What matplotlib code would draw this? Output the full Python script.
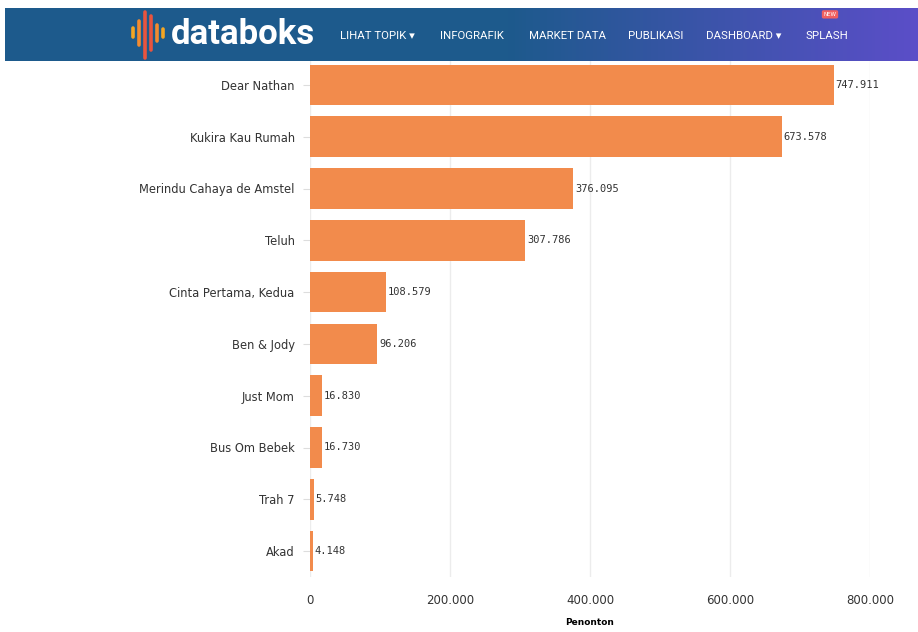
import matplotlib.pyplot as plt
import numpy as np

films = ['Dear Nathan', 'Kukira Kau Rumah', 'Merindu Cahaya de Amstel', 'Teluh',
         'Cinta Pertama, Kedua', 'Ben & Jody', 'Just Mom', 'Bus Om Bebek', 'Trah 7', 'Akad']
penonton = [747911, 673578, 376095, 307786, 108579, 96206, 16830, 16730, 5748, 4148]
xticks = [0, 200000, 400000, 600000, 800000]
menu = ['LIHAT TOPIK ▾', 'INFOGRAFIK', 'MARKET DATA', 'PUBLIKASI', 'DASHBOARD ▾', 'SPLASH']


def titik(v):
    return f'{v:,}'.replace(',', '.')


W, H = 918, 632
fig = plt.figure(figsize=(W / 100, H / 100), dpi=100)

# main chart
ax = fig.add_axes([310 / W, 1 - 577 / H, 560 / W, 518 / H])
ax.patch.set_alpha(0)
y = np.arange(len(films))
ax.barh(y, penonton, height=0.78, color='#f28b4c', zorder=2)
ax.set_ylim(len(films) - 0.5, -0.5)
ax.set_xlim(0, 800000)
ax.set_yticks(y)
ax.set_yticklabels(films, fontsize=8.3, color='#333333')
ax.set_xticks(xticks)
ax.set_xticklabels([titik(v) for v in xticks], fontsize=8.5, color='#333333')
ax.tick_params(axis='y', length=5, color='#dddddd', pad=6)
ax.tick_params(axis='x', length=0, pad=12)
ax.grid(axis='x', color='#ececec', lw=1, zorder=0)
for s in ax.spines.values():
    s.set_visible(False)
for yi, v in zip(y, penonton):
    ax.text(v + 2500, yi, titik(v), va='center', ha='left', fontsize=7.5,
            family='DejaVu Sans Mono', color='#333333')
ax.set_xlabel('Penonton', fontsize=6.5, fontweight='bold', labelpad=8)

# header banner
hdr = fig.add_axes([5 / W, 1 - 61 / H, 913 / W, 53 / H])
grad = np.linspace(0, 1, 256)
c0 = np.array([0x1d, 0x5a, 0x8c]) / 255
c1 = np.array([0x5b, 0x4e, 0xc8]) / 255
t = np.clip((grad - 0.55) / 0.45, 0, 1)[:, None]
img = (c0 * (1 - t) + c1 * t)[None, :, :]
hdr.imshow(img, aspect='auto', extent=[0, 1, 0, 1])
hdr.set_xlim(0, 1)
hdr.set_ylim(0, 1)
hdr.axis('off')
# logo bars
logo_x = [133, 139, 145, 151, 157, 163]
logo_h = [(0.45, 0.62), (0.3, 0.75), (0.05, 0.92), (0.2, 0.85), (0.38, 0.68), (0.45, 0.6)]
logo_c = ['#f5a623', '#f28b30', '#e8543f', '#e8543f', '#f28b30', '#f5a623']
for px, (y0, y1), c in zip(logo_x, logo_h, logo_c):
    hdr.plot([(px - 5) / 913] * 2, [y0, y1], color=c, lw=2.6, solid_capstyle='round')
hdr.text((171 - 5) / 913, 0.5, 'databoks', color='white', fontsize=25, fontweight='bold',
         va='center', ha='left', family='Roboto')
mx = [340, 440, 529, 628, 706, 806]
for x, m in zip(mx, menu):
    hdr.text((x - 5) / 913, 0.47, m, color='white', fontsize=8.2, va='center', ha='left',
             family=['Roboto', 'DejaVu Sans'])
hdr.text((830 - 5) / 913, 0.88, 'NEW', color='white', fontsize=4, ha='center', va='center',
         bbox=dict(boxstyle='round,pad=0.3', fc='#f06060', ec='none'))

fig.savefig('out.png', dpi=100)
